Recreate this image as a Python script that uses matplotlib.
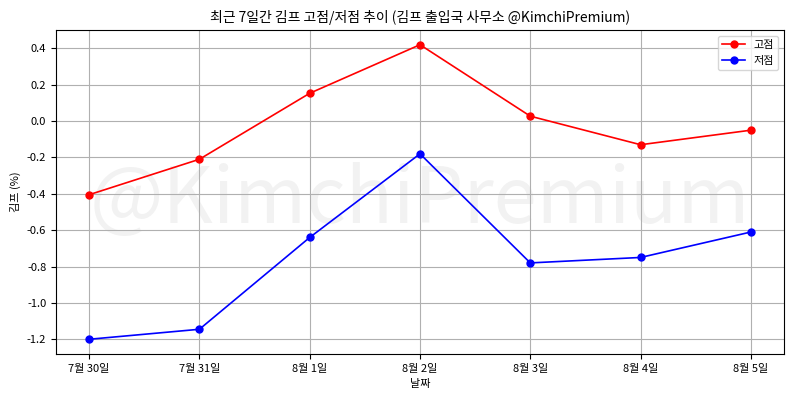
import matplotlib.pyplot as plt
import numpy as np

plt.rcParams['font.family'] = ['Noto Sans CJK KR', 'DejaVu Sans']
plt.rcParams['axes.unicode_minus'] = False

dates = ['7월 30일', '7월 31일', '8월 1일', '8월 2일', '8월 3일', '8월 4일', '8월 5일']
highs = [-0.405, -0.21, 0.153, 0.42, 0.027, -0.13, -0.05]
lows = [-1.2, -1.145, -0.64, -0.18, -0.78, -0.75, -0.61]

fig, ax = plt.subplots(figsize=(8, 4), dpi=100)
x = np.arange(len(dates))

# 워터마크
ax.text(0.5, 0.47, '@KimchiPremium', transform=ax.transAxes, fontsize=56,
        color='gray', alpha=0.1, ha='center', va='center', zorder=0)

ax.plot(x, highs, 'o-', color='red', label='고점', markersize=5, linewidth=1.2)
ax.plot(x, lows, 'o-', color='blue', label='저점', markersize=5, linewidth=1.2)

ax.set_xticks(x)
ax.set_xticklabels(dates, fontsize=8)
ax.tick_params(axis='y', labelsize=8)
ax.set_yticks([0.4, 0.2, 0.0, -0.2, -0.4, -0.6, -0.8, -1.0, -1.2])
ax.set_title('최근 7일간 김프 고점/저점 추이 (김프 출입국 사무소 @KimchiPremium)', fontsize=10)
ax.set_xlabel('날짜', fontsize=8)
ax.set_ylabel('김프 (%)', fontsize=8)
ax.grid(True)
ax.legend(fontsize=8)

plt.subplots_adjust(left=0.07, right=0.98, top=0.925, bottom=0.115)
plt.savefig('out.png')
